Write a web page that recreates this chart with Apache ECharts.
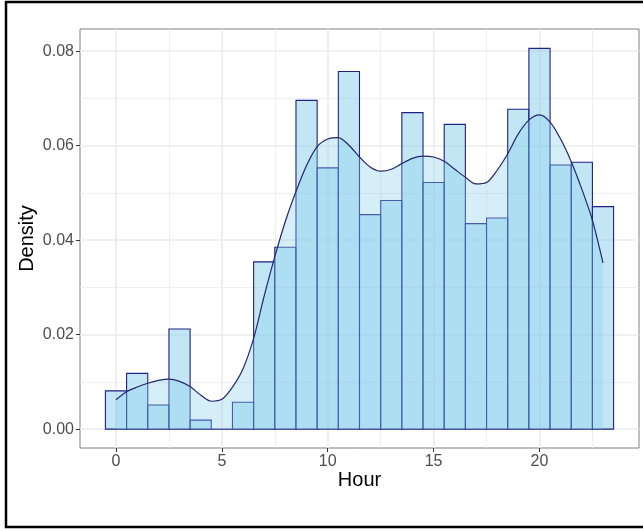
<!DOCTYPE html>
<html>
<head>
<meta charset="utf-8">
<script src="https://cdn.jsdelivr.net/npm/echarts@6/dist/echarts.min.js"></script>
<style>
html,body{margin:0;padding:0;background:#fff;}
#chart{width:643px;height:529px;}
</style>
</head>
<body>
<div id="chart"></div>
<script>
// Histogram bins (centre hour) and densities
const binCenters = [0,1,2,3,4,5,6,7,8,9,10,11,12,13,14,15,16,17,18,19,20,21,22,23];
const binDensity = [0.0081,0.0118,0.0051,0.0212,0.0019,0.0,0.0057,0.0354,0.0385,0.0696,0.0553,0.0757,0.0454,0.0484,0.0670,0.0522,0.0645,0.0435,0.0447,0.0677,0.0806,0.0559,0.0565,0.0471];

// Kernel density curve
const kdeX = [0,0.5,1,1.5,2,2.5,3,3.5,4,4.5,5,5.5,6,6.5,7,7.5,8,8.5,9,9.5,10,10.5,11,11.5,12,12.5,13,13.5,14,14.5,15,15.5,16,16.5,17,17.5,18,18.5,19,19.5,20,20.5,21,21.5,22,22.5,23];
const kdeY = [0.0062,0.0079,0.0089,0.0097,0.0103,0.0106,0.0101,0.0090,0.0072,0.0059,0.0063,0.0089,0.0128,0.0192,0.0282,0.0365,0.0440,0.0503,0.0558,0.0598,0.0614,0.0617,0.0601,0.0576,0.0555,0.0546,0.0550,0.0562,0.0573,0.0578,0.0576,0.0567,0.0550,0.0533,0.0519,0.0522,0.0548,0.0583,0.0625,0.0654,0.0665,0.0650,0.0614,0.0566,0.0508,0.0442,0.0352];

// Axis ticks
const xTicks = [0,5,10,15,20];
const xMinorGrid = [2.5,7.5,12.5,17.5,22.5];
const yTicks = [0,0.02,0.04,0.06,0.08];
const yMinorGrid = [0.01,0.03,0.05,0.07];
const xTitle = 'Hour';
const yTitle = 'Density';

const FONT = "'Liberation Sans', Arial, Helvetica, sans-serif";
const chart = echarts.init(document.getElementById('chart'), null, {renderer:'canvas'});

const histData = binCenters.map((c,i)=>[c, binDensity[i]]);
const kdeData = kdeX.map((x,i)=>[x, kdeY[i]]);

const gridLines = [];
xTicks.forEach(v=>gridLines.push({xAxis:v, lineStyle:{color:'#ebebeb', width:1.6, type:'solid'}}));
xMinorGrid.forEach(v=>gridLines.push({xAxis:v, lineStyle:{color:'#ebebeb', width:0.8, type:'solid'}}));
yTicks.forEach(v=>gridLines.push({yAxis:v, lineStyle:{color:'#ebebeb', width:1.6, type:'solid'}}));
yMinorGrid.forEach(v=>gridLines.push({yAxis:v, lineStyle:{color:'#ebebeb', width:0.8, type:'solid'}}));

chart.setOption({
  animation:false,
  backgroundColor:'#ffffff',
  grid:{left:80, top:29, right:4, bottom:81, show:true, borderColor:'#7f7f7f', borderWidth:1, backgroundColor:'transparent'},
  xAxis:{
    type:'value', min:-1.7, max:24.7,
    name:xTitle, nameLocation:'middle', nameGap:22, nameMoveOverlap:false,
    nameTextStyle:{color:'#000', fontSize:20, fontFamily:FONT},
    axisLine:{show:false, onZero:false},
    axisTick:{show:true, length:4, lineStyle:{color:'#333333', width:1}, customValues:xTicks},
    axisLabel:{color:'#4d4d4d', fontSize:16, fontFamily:FONT, margin:6, customValues:xTicks},
    splitLine:{show:false}
  },
  yAxis:{
    type:'value', min:-0.004, max:0.0847,
    name:yTitle, nameLocation:'middle', nameGap:43, nameRotate:90, nameMoveOverlap:false,
    nameTextStyle:{color:'#000', fontSize:20, fontFamily:FONT},
    axisLine:{show:false, onZero:false},
    axisTick:{show:true, length:4, lineStyle:{color:'#333333', width:1}, customValues:yTicks},
    axisLabel:{color:'#4d4d4d', fontSize:16, fontFamily:FONT, margin:6, customValues:yTicks,
      formatter:v=>Number(v).toFixed(2)},
    splitLine:{show:false}
  },
  graphic:[{type:'rect', shape:{x:6, y:2, width:700, height:525}, style:{fill:'none', stroke:'#000', lineWidth:2.5}, silent:true, z:100}],
  series:[
    {
      type:'line', data:[], z:0, silent:true,
      markLine:{z:0, zlevel:0, silent:true, symbol:'none', label:{show:false}, animation:false, data:gridLines}
    },
    {
      type:'custom', z:2, data:histData,
      renderItem:function(params, api){
        const c = api.value(0), h = api.value(1);
        const p1 = api.coord([c-0.5, h]);
        const p2 = api.coord([c+0.5, 0]);
        return {type:'rect', shape:{x:p1[0], y:p1[1], width:p2[0]-p1[0], height:p2[1]-p1[1]},
          style:{fill:'rgba(135,206,235,0.5)', stroke:'#1f2185', lineWidth:1.1}};
      }
    },
    {
      type:'line', z:3, data:kdeData, smooth:0.3, symbol:'none',
      lineStyle:{color:'#23266e', width:1.2},
      areaStyle:{color:'rgba(135,206,235,0.5)', origin:0}
    }
  ]
});
</script>
</body>
</html>
